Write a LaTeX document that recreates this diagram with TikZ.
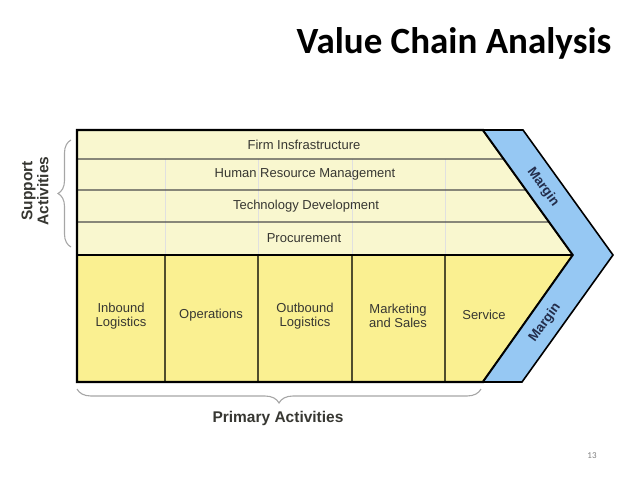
\documentclass[tikz,border=0pt]{standalone}
\usepackage{fontspec}
\setmainfont{Liberation Sans}
\newfontfamily\titlefont{Carlito}
\usetikzlibrary{positioning,calc,decorations.pathreplacing}
\definecolor{supfill}{RGB}{249,247,207}
\definecolor{prifill}{RGB}{250,240,145}
\definecolor{marfill}{RGB}{150,200,243}
\definecolor{txt}{RGB}{55,55,50}
\definecolor{martxt}{RGB}{35,45,75}
\definecolor{divline}{RGB}{80,78,45}

\begin{document}
\begin{tikzpicture}[x=1pt, y=-1pt,
  act/.style={font=\fontsize{13}{14}\selectfont, text=txt, align=center, inner sep=1pt},
  mar/.style={font=\bfseries\fontsize{13.5}{14}\selectfont, text=martxt, inner sep=0pt},
  grp/.style={font=\bfseries\fontsize{15.5}{16}\selectfont, text=txt, align=center, inner sep=1pt},
  brc/.style={draw=gray!70, line width=1.1pt, decorate},
  rowline/.style={draw=black!70, line width=1.3pt},
  faint/.style={draw=black!12, line width=0.8pt},
  colline/.style={draw=divline, line width=1.3pt}]
  \useasboundingbox (0,0) rectangle (638,479);
  % outline points
  \coordinate (tl) at (77,130);
  \coordinate (tr) at (483,130);
  \coordinate (tip) at (573,255);
  \coordinate (br) at (483,382);
  \coordinate (bl) at (77,382);
  \coordinate (ml) at (77,255);
  % fills
  \fill[supfill] (tl) -- (tr) -- (tip) -- (ml) -- cycle;
  \fill[prifill] (ml) -- (tip) -- (br) -- (bl) -- cycle;
  % faint support columns and primary dividers
  \foreach \x in {165,258,352,445} {
    \draw[faint] (\x,159) -- (\x,255);
    \draw[colline] (\x,255) -- (\x,382);
  }
  % support rows
  \foreach \y in {159,190,222} {
    \draw[rowline] (77,\y) -- ($(tr)!{(\y-130)/125}!(tip)$);
  }
  \draw[black, line width=2pt] (ml) -- (tip);
  \draw[black, line width=2.4pt, line join=miter] (tl) -- (tr) -- (tip) -- (br) -- (bl) -- cycle;
  % margin band
  \draw[fill=marfill, draw=black, line width=1.6pt, line join=miter]
    (tr) -- (523,130) -- (613,255) -- (522,382) -- (br) -- (tip) -- cycle;
  % support activities
  \node[act] (firm) at (304,145) {Firm Insfrastructure};
  \node[act] (hrm) at (305,174) {Human Resource Management};
  \node[act] (tech) at (306,206) {Technology Development};
  \node[act] (proc) at (304,238) {Procurement};
  % primary activities
  \node[act] (inbound) at (121,316) {Inbound\\Logistics};
  \node[act] (ops) at (211,315) {Operations};
  \node[act] (outbound) at (305,316) {Outbound\\Logistics};
  \node[act] (mkt) at (398,316) {Marketing\\and Sales};
  \node[act] (service) at (484,315) {Service};
  % margin labels
  \node[mar, rotate=-54] (mtop) at (543,187) {Margin};
  \node[mar, rotate=54] (mbot) at (545,323) {Margin};
  % braces
  \draw[brc, decoration={brace, amplitude=13pt}] (71,247) -- (71,140);
  \node[grp, rotate=90] (support) at (35,191) {Support\\Activities};
  \draw[brc, decoration={brace, amplitude=14pt}] (481,389) -- (77,389);
  \node[grp] (primary) at (278,418) {Primary Activities};
  % title and page
  \node[font=\titlefont\bfseries\fontsize{37}{40}\selectfont, inner sep=0pt] (title) at (454,43) {Value Chain Analysis};
  \node[font=\titlefont\fontsize{9}{10}\selectfont, text=gray, inner sep=0pt] (page) at (592,456) {13};
\end{tikzpicture}
\end{document}
